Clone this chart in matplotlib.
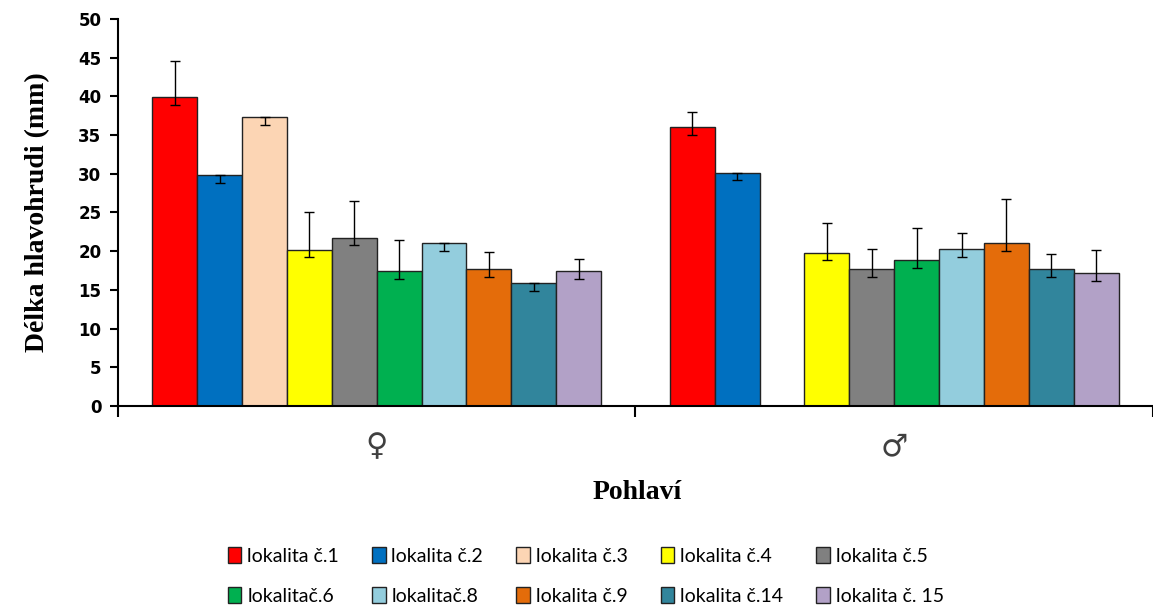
import numpy as np
import matplotlib
matplotlib.use("Agg")
import matplotlib.pyplot as plt

# data
groups = ["\u2640", "\u2642"]
labels = ["lokalita č.1", "lokalita č.2", "lokalita č.3", "lokalita č.4", "lokalita č.5",
          "lokalitač.6", "lokalitač.8", "lokalita č.9", "lokalita č.14", "lokalita č. 15"]
colors = ["#FF0000", "#0070C0", "#FCD5B4", "#FFFF00", "#808080",
          "#00B050", "#93CDDD", "#E46C0A", "#31859C", "#B2A1C7"]

female = [39.9, 29.8, 37.3, 20.2, 21.7, 17.4, 21.0, 17.7, 15.9, 17.4]
female_lo = [1.0, 1.0, 1.0, 1.0, 0.9, 1.0, 1.0, 1.0, 1.0, 1.0]
female_hi = [4.7, 0.0, 0.0, 4.9, 4.8, 4.0, 0.0, 2.2, 0.0, 1.6]

male = [36.0, 30.1, np.nan, 19.8, 17.7, 18.8, 20.3, 21.0, 17.7, 17.2]
male_lo = [1.0, 0.9, np.nan, 1.0, 1.0, 1.0, 1.0, 1.0, 1.0, 1.0]
male_hi = [2.0, 0.0, np.nan, 3.8, 2.6, 4.2, 2.0, 5.8, 2.0, 3.0]

fig = plt.figure(figsize=(11.53, 6.10), dpi=100)
ax = fig.add_axes([0.1023, 0.3344, 0.8977, 0.6345])

x = np.arange(len(groups))
w = 0.0867
handles = []
for i in range(len(labels)):
    vals = [female[i], male[i]]
    lo = [female_lo[i], male_lo[i]]
    hi = [female_hi[i], male_hi[i]]
    pos = x + (i - 4.5) * w
    b = ax.bar(pos, vals, width=w, color=colors[i], edgecolor="#222222", linewidth=1.0,
               label=labels[i], zorder=2)
    handles.append(b)
    ax.errorbar(pos, vals, yerr=[lo, hi], fmt="none", ecolor="black", elinewidth=1.0,
                capsize=3.8, capthick=1.0, zorder=3)

ax.set_xlim(-0.5, 1.5)
ax.set_ylim(0, 50)
ax.set_yticks(np.arange(0, 51, 5))
for lab in ax.get_yticklabels():
    lab.set_fontweight("bold")
    lab.set_fontsize(12)
    lab.set_family("DejaVu Sans")
ax.tick_params(axis="y", direction="out", length=6, width=1.5, pad=6)

ax.set_xticks([-0.5, 0.5, 1.5])
ax.set_xticklabels([])
ax.tick_params(axis="x", which="major", direction="out", length=8, width=1.5)
ax.set_xticks(x, minor=True)
ax.set_xticklabels(groups, minor=True, fontsize=22, color="#404040")
ax.tick_params(axis="x", which="minor", length=0, pad=19)

for s in ["top", "right"]:
    ax.spines[s].set_visible(False)
ax.spines["left"].set_linewidth(1.5)
ax.spines["bottom"].set_linewidth(1.5)

ax.set_ylabel("Délka hlavohrudi (mm)", family="Liberation Serif", fontweight="bold",
              fontsize=20, labelpad=20)
fig.text(0.5525, 0.192, "Pohlaví", family="Liberation Serif", fontweight="bold",
         fontsize=20, ha="center", va="center")

# legend filled row by row
order = [0, 5, 1, 6, 2, 7, 3, 8, 4, 9]
leg = fig.legend([handles[k] for k in order], [labels[k] for k in order],
                 loc="center", bbox_to_anchor=(0.508, 0.056), ncol=5, frameon=False,
                 prop={"family": "Lato", "size": 14}, handlelength=0.7, handleheight=0.85,
                 handletextpad=0.3, columnspacing=1.7, labelspacing=1.15)

fig.savefig("out.png", dpi=100)
